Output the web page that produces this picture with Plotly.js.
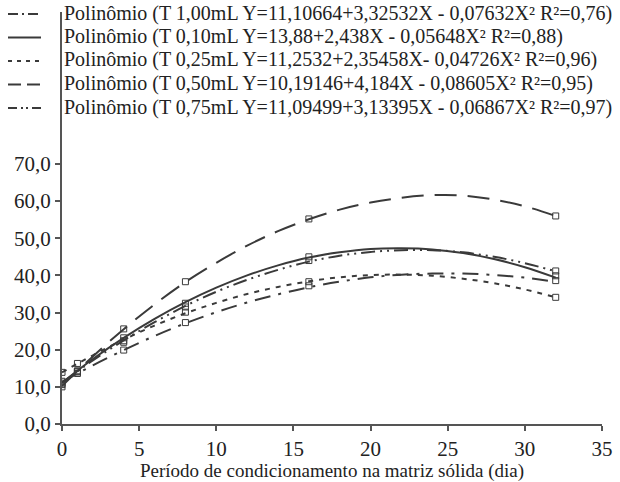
<!DOCTYPE html>
<html>
<head>
<meta charset="utf-8">
<script src="https://cdn.plot.ly/plotly-3.0.1.min.js"></script>
<style>
html,body{margin:0;padding:0;background:#fff;font-family:"Liberation Serif","Times New Roman",serif;}
#chart{width:620px;height:482px;}
</style>
</head>
<body>
<div id="chart"></div>
<script>
// ---- data ----
const seriesNames = [
  "Polinômio (T 1,00mL Y=11,10664+3,32532X - 0,07632X² R²=0,76)",
  "Polinômio (T 0,10mL Y=13,88+2,438X - 0,05648X² R²=0,88)",
  "Polinômio (T 0,25mL Y=11,2532+2,35458X- 0,04726X² R²=0,96)",
  "Polinômio (T 0,50mL Y=10,19146+4,184X - 0,08605X² R²=0,95)",
  "Polinômio (T 0,75mL Y=11,09499+3,13395X - 0,06867X² R²=0,97)"
];
const curveDays = [0,2,4,6,8,10,12,14,16,18,20,22,24,26,28,30,32];
const curveT100 = [11.3,15.8,19.9,23.7,27.1,30.1,32.7,34.9,36.8,38.3,39.5,40.2,40.5,40.5,40.1,39.4,38.2];
const curveT010 = [11.1,17.5,23.2,28.3,32.8,36.7,40.0,42.7,44.8,46.2,47.1,47.3,47.0,46.0,44.4,42.2,39.4];
const curveT025 = [13.9,18.5,22.7,26.5,29.8,32.6,35.0,36.9,38.4,39.5,40.1,40.2,39.9,39.1,37.9,36.2,34.1];
const curveT050 = [10.2,18.2,25.5,32.2,38.2,43.4,48.0,51.9,55.1,57.7,59.6,60.9,61.6,61.5,60.4,58.6,56.0];
const curveT075 = [11.1,17.1,22.5,27.4,31.8,35.6,38.8,41.5,43.7,45.3,46.3,46.8,46.8,46.2,45.0,43.3,41.1];

const obsDays = [0,1,4,8,16,32];
const obsT100 = [10.6,13.6,19.9,27.3,37.2,38.6];
const obsT010 = [11.0,14.2,23.2,32.5,45.0,39.9];
const obsT025 = [13.9,16.3,22.0,30.1,38.3,34.1];
const obsT050 = [10.0,14.3,25.6,38.3,55.2,56.0];
const obsT075 = [11.5,14.0,22.4,31.5,44.0,41.2];

const xTicks = [0,5,10,15,20,25,30,35];
const yTicks = [0,10,20,30,40,50,60,70];
const yTickText = ["0,0","10,0","20,0","30,0","40,0","50,0","60,0","70,0"];
const xTitle = "Período de condicionamento na matriz sólida (dia)";

// ---- styles ----
const curves = [curveT100, curveT010, curveT025, curveT050, curveT075];
const obs = [obsT100, obsT010, obsT025, obsT050, obsT075];
const dashes = ["16px,8px,3px,8px", "solid", "5px,6px", "22px,11px", "14px,5px,2px,5px,2px,5px"];
const legDashes = ["10px,4px,2px,4px", "solid", "4px,5px", "13px,6px", "9px,4px,2px,3px,2px,4px"];
const lineColor = "#3a3a3a";
const FONT = "Times New Roman";

const W = 620, H = 482;
const mL = 62, mR = 18, mT = 12, mB = 58;
const pw = W - mL - mR, ph = H - mT - mB;
const px2x = p => (p - mL) / pw;
const py2y = p => (H - mB - p) / ph;

const traces = [];
curves.forEach((c, i) => {
  traces.push({
    x: curveDays, y: c, type: "scatter", mode: "lines", name: seriesNames[i],
    line: {color: lineColor, width: 2, dash: dashes[i], shape: "spline", smoothing: 1},
    showlegend: false, hoverinfo: "skip"
  });
});
obs.forEach((o, i) => {
  traces.push({
    x: obsDays, y: o, type: "scatter", mode: "markers",
    marker: {symbol: "square-open", size: 6, color: lineColor, line: {width: 1, color: lineColor}},
    showlegend: false, hoverinfo: "skip"
  });
});

const rowY = [13, 36.5, 60, 83.5, 107];
const annotations = seriesNames.map((n, i) => ({
  text: n, xref: "paper", yref: "paper", x: px2x(62), y: py2y(rowY[i]),
  xanchor: "left", yanchor: "middle", showarrow: false,
  font: {family: FONT, size: 20, color: "#222"}
}));
annotations.push({
  text: xTitle, xref: "paper", yref: "paper", x: 0.5, y: py2y(471),
  xanchor: "center", yanchor: "middle", showarrow: false,
  font: {family: FONT, size: 19, color: "#222"}
});
const shapes = seriesNames.map((n, i) => ({
  type: "line", xref: "paper", yref: "paper",
  x0: px2x(8), x1: px2x(41), y0: py2y(rowY[i] + 1), y1: py2y(rowY[i] + 1),
  line: {color: lineColor, width: 2, dash: legDashes[i]}
}));

const layout = {
  width: W, height: H,
  margin: {l: mL, r: mR, t: mT, b: mB, pad: 0},
  paper_bgcolor: "#fff", plot_bgcolor: "#fff",
  showlegend: false,
  font: {family: FONT, color: "#222"},
  xaxis: {
    range: [0, 35], tickvals: xTicks, ticktext: xTicks.map(String),
    showgrid: false, zeroline: false, showline: true, linecolor: "#555", linewidth: 2,
    ticks: "outside", ticklen: 5, tickwidth: 2, tickcolor: "#555",
    tickfont: {family: FONT, size: 21, color: "#222"}
  },
  yaxis: {
    range: [0, 110.9], tickvals: yTicks, ticktext: yTickText,
    showgrid: false, zeroline: false, showline: true, linecolor: "#555", linewidth: 2,
    ticks: "outside", ticklen: 5, tickwidth: 2, tickcolor: "#555",
    tickfont: {family: FONT, size: 21, color: "#222"}
  },
  annotations: annotations,
  shapes: shapes
};

Plotly.newPlot("chart", traces, layout, {displayModeBar: false});
</script>
</body>
</html>
